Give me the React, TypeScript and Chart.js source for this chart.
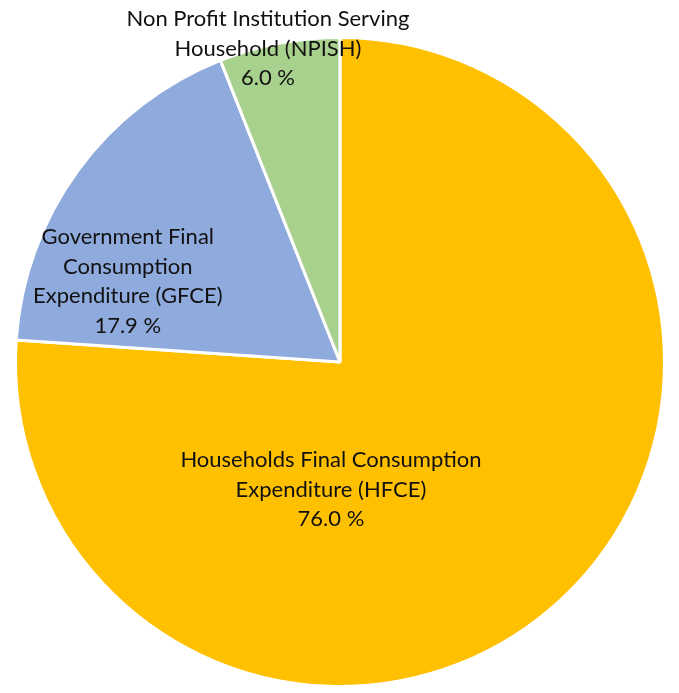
import React, { useEffect, useRef } from "react";
import { Chart, registerables } from "chart.js";

Chart.register(...registerables);

const categories: string[][] = [
  ["Households Final Consumption", "Expenditure (HFCE)"],
  ["Government Final", "Consumption", "Expenditure (GFCE)"],
  ["Non Profit Institution Serving", "Household (NPISH)"],
];
const shares: number[] = [76.0, 17.9, 6.0];
const colors: string[] = ["#FFC000", "#8FAADC", "#A9D18E"];
// label anchor offsets from the pie centre, as fractions of the radius
const labelOffsets: [number, number][] = [
  [-0.028, 0.394],
  [-0.654, -0.248],
  [-0.222, -0.965],
];

const labelPlugin = {
  id: "sliceLabels",
  afterDatasetsDraw(chart: any) {
    const meta = chart.getDatasetMeta(0);
    const ctx = chart.ctx as CanvasRenderingContext2D;
    ctx.save();
    ctx.font = "22px Lato, 'Open Sans', sans-serif";
    ctx.fillStyle = "#111";
    ctx.textAlign = "center";
    ctx.textBaseline = "middle";
    const lineH = 29.5;
    meta.data.forEach((arc: any, i: number) => {
      const { x, y, outerRadius } = arc.getProps(["x", "y", "outerRadius"], true);
      const cx = x + labelOffsets[i][0] * outerRadius;
      const cy = y + labelOffsets[i][1] * outerRadius;
      const lines = [...categories[i], shares[i].toFixed(1) + " %"];
      const y0 = cy - ((lines.length - 1) * lineH) / 2;
      lines.forEach((t, k) => ctx.fillText(t, cx, y0 + k * lineH));
    });
    ctx.restore();
  },
};

export default function App() {
  const ref = useRef<HTMLCanvasElement>(null);
  useEffect(() => {
    const chart = new Chart(ref.current!, {
      type: "pie",
      data: {
        labels: categories.map((c) => c.join(" ")),
        datasets: [
          {
            data: shares,
            backgroundColor: colors,
            borderColor: "#ffffff",
            borderWidth: 3,
          },
        ],
      },
      options: {
        animation: false,
        responsive: false,
        maintainAspectRatio: false,
        layout: { padding: { left: 14, right: 13, top: 36, bottom: 5 } },
        plugins: { legend: { display: false }, tooltip: { enabled: false } },
      },
      plugins: [labelPlugin],
    });
    return () => chart.destroy();
  }, []);
  return (
    <div style={{ position: "fixed", left: 0, top: 0, width: 679, height: 693, background: "#fff" }}>
      <canvas ref={ref} width={679} height={693} style={{ width: 679, height: 693 }} />
    </div>
  );
}
